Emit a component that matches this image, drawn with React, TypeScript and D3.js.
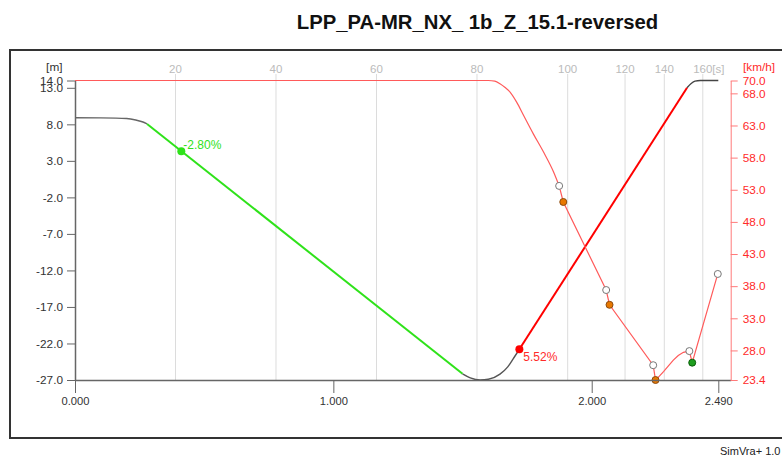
import React, { useRef, useEffect } from 'react';
import * as d3 from 'd3';

const title = 'LPP_PA-MR_NX_ 1b_Z_15.1-reversed';

// elevation profile, [distance km, elevation m]
const startCurve: [number, number][] = [
  [0, 8.9], [0.1, 8.88], [0.2, 8.8], [0.235, 8.6], [0.26, 8.35], [0.279, 8.05],
];
const downGrade: [number, number][] = [[0.279, 8.05], [1.5, -26.15]];
const valleyCurve: [number, number][] = [
  [1.5, -26.15], [1.53, -26.7], [1.568, -27.0], [1.6, -26.9], [1.645, -26.2],
  [1.675, -25.2], [1.696, -24.1], [1.72, -22.8],
];
const upGrade: [number, number][] = [[1.72, -22.8], [2.369, 13.0]];
const topCurve: [number, number][] = [
  [2.369, 13.0], [2.385, 13.6], [2.4, 13.92], [2.42, 14.0], [2.49, 14.0],
];

// grade markers
const gradeKm = [0.4115, 1.72];
const gradeElev = [4.3, -22.8];
const gradeLabels = ['-2.80%', '5.52%'];

// speed profile, [distance km, speed km/h]
const speedBend: [number, number][] = [
  [0, 70], [1.6, 70], [1.625, 69.9], [1.645, 69.5], [1.665, 68.9], [1.684, 68.2],
  [1.71, 66.6], [1.736, 64.6], [1.774, 61.7], [1.813, 58.9], [1.852, 55.8],
  [1.874, 53.6],
];
const speedLine: [number, number][] = [
  [1.874, 53.6], [1.89, 51.1], [2.056, 37.4], [2.069, 35.1], [2.238, 25.7],
  [2.247, 23.4], [2.262, 24.0], [2.278, 24.7], [2.297, 25.6], [2.316, 26.5],
  [2.335, 27.2], [2.355, 27.7], [2.378, 27.9], [2.389, 26.1], [2.488, 39.9],
];
const openPoints: [number, number][] = [
  [1.874, 53.6], [2.056, 37.4], [2.238, 25.7], [2.378, 27.9], [2.488, 39.9],
];
const orangePoints: [number, number][] = [[1.89, 51.1], [2.069, 35.1], [2.247, 23.4]];
const greenPoints: [number, number][] = [[2.389, 26.1]];

// axes
const distTicks = [0, 1, 2, 2.49];
const elevTicks = [14, 13, 8, 3, -2, -7, -12, -17, -22, -27];
const speedTicks = [70, 68, 63, 58, 53, 48, 43, 38, 33, 28, 23.4];
const timeTicks = [20, 40, 60, 80, 100, 120, 140, 160];
const timeTickKm = [0.389, 0.778, 1.167, 1.556, 1.907, 2.129, 2.281, 2.43];

const W = 782;
const H = 458;
const FONT = '"Liberation Sans", Arial, sans-serif';

const App = () => {
  const svgRef = useRef<SVGSVGElement>(null);

  useEffect(() => {
    if (!svgRef.current) return;
    const svg = d3.select(svgRef.current);
    svg.selectAll('*').remove();

    const left = 75, right = 730.7, top = 80.5, bottom = 380;

    const x = d3.scaleLinear().domain([0, 2.538]).range([left, right]);
    const yElev = d3.scaleLinear().domain([-27, 14]).range([bottom, top]);
    const ySpeed = d3.scaleLinear().domain([23.4, 70]).range([bottom, top]);

    // frame
    svg.append('rect')
      .attr('x', 10).attr('y', 50).attr('width', 820).attr('height', 388)
      .attr('fill', 'none').attr('stroke', '#333').attr('stroke-width', 2);

    // title
    svg.append('text')
      .attr('x', 477.5).attr('y', 28.5)
      .attr('text-anchor', 'middle')
      .attr('font-family', FONT).attr('font-weight', 'bold').attr('font-size', 20.3)
      .attr('fill', '#111')
      .text(title);

    svg.append('text')
      .attr('x', 720).attr('y', 454.5)
      .attr('font-family', FONT).attr('font-size', 11).attr('fill', '#222')
      .text('SimVra+ 1.0');

    // time grid
    const grid = svg.append('g');
    grid.selectAll('line')
      .data(timeTickKm)
      .join('line')
      .attr('x1', d => x(d)).attr('x2', d => x(d))
      .attr('y1', 74).attr('y2', bottom)
      .attr('stroke', '#dcdcdc').attr('stroke-width', 1);
    grid.selectAll('text')
      .data(timeTickKm)
      .join('text')
      .attr('x', d => x(d)).attr('y', 72.5)
      .attr('text-anchor', 'middle')
      .attr('font-family', FONT).attr('font-size', 11.5).attr('fill', '#bbb')
      .text((_, i) => String(timeTicks[i]));
    grid.append('text')
      .attr('x', x(timeTickKm[timeTickKm.length - 1]) + 9.5).attr('y', 72.5)
      .attr('font-family', FONT).attr('font-size', 11.5).attr('fill', '#bbb')
      .text('[s]');

    // elevation profile
    const elevLine = d3.line<[number, number]>()
      .x(d => x(d[0]))
      .y(d => yElev(d[1]))
      .curve(d3.curveMonotoneX);

    const profileParts: { data: [number, number][]; color: string; width: number }[] = [
      { data: startCurve, color: '#666', width: 1.4 },
      { data: downGrade, color: '#2fe21a', width: 2 },
      { data: valleyCurve, color: '#555', width: 1.4 },
      { data: upGrade, color: '#ff0000', width: 2 },
      { data: topCurve, color: '#444', width: 1.4 },
    ];
    profileParts.forEach(p => {
      svg.append('path')
        .datum(p.data)
        .attr('fill', 'none')
        .attr('stroke', p.color)
        .attr('stroke-width', p.width)
        .attr('d', elevLine);
    });

    // speed profile
    const speedPath = d3.line<[number, number]>()
      .x(d => x(d[0]))
      .y(d => ySpeed(d[1]));
    svg.append('path')
      .datum(speedBend)
      .attr('fill', 'none')
      .attr('stroke', '#ff5a5a')
      .attr('stroke-width', 1.2)
      .attr('d', speedPath.curve(d3.curveMonotoneX));
    svg.append('path')
      .datum(speedLine)
      .attr('fill', 'none')
      .attr('stroke', '#ff5a5a')
      .attr('stroke-width', 1.2)
      .attr('d', speedPath.curve(d3.curveLinear));

    // grade points
    const gradeColors = ['#2fe21a', '#ff0000'];
    gradeKm.forEach((km, i) => {
      svg.append('circle')
        .attr('cx', x(km)).attr('cy', yElev(gradeElev[i])).attr('r', 4)
        .attr('fill', gradeColors[i]);
      svg.append('text')
        .attr('x', x(km) + (i === 0 ? 2 : 4)).attr('y', yElev(gradeElev[i]) + (i === 0 ? -2 : 12))
        .attr('font-family', FONT).attr('font-size', 12)
        .attr('fill', i === 0 ? '#2fe21a' : '#ff2a2a')
        .text(gradeLabels[i]);
    });

    // speed markers
    const markers = (data: [number, number][], fill: string, stroke: string) => {
      svg.append('g').selectAll('circle')
        .data(data)
        .join('circle')
        .attr('cx', d => x(d[0])).attr('cy', d => ySpeed(d[1])).attr('r', 3.5)
        .attr('fill', fill).attr('stroke', stroke).attr('stroke-width', 1);
    };
    markers(openPoints, '#fff', '#777');
    markers(orangePoints, '#e87800', '#8a4a10');
    markers(greenPoints, '#1e9e1e', '#0b5e0b');

    // axes
    const fmt1 = (d: d3.NumberValue) => (+d).toFixed(1);
    const fmt3 = (d: d3.NumberValue) => (+d).toFixed(3);

    const styleAxis = (g: d3.Selection<SVGGElement, unknown, null, undefined>, color: string, textColor: string) => {
      g.attr('font-family', FONT).attr('font-size', 11.8);
      g.selectAll('.domain').attr('stroke', color).attr('stroke-width', 1.5);
      g.selectAll('.tick line').attr('stroke', color).attr('stroke-width', 1);
      g.selectAll('.tick text').attr('fill', textColor);
    };

    const gLeft = svg.append('g')
      .attr('transform', `translate(${left},0)`)
      .call(d3.axisLeft(yElev).tickValues(elevTicks).tickFormat(fmt1)
        .tickSize(8).tickSizeOuter(0).tickPadding(4));
    styleAxis(gLeft, '#666', '#333');

    const gBottom = svg.append('g')
      .attr('transform', `translate(0,${bottom})`)
      .call(d3.axisBottom(x).tickValues(distTicks).tickFormat(fmt3)
        .tickSize(13).tickSizeOuter(0).tickPadding(4));
    styleAxis(gBottom, '#666', '#333');
    gBottom.attr('font-size', 11.2);

    const gRight = svg.append('g')
      .attr('transform', `translate(${right},0)`)
      .call(d3.axisRight(ySpeed).tickValues(speedTicks).tickFormat(fmt1)
        .tickSize(7).tickSizeOuter(0).tickPadding(5));
    styleAxis(gRight, '#ff7a7a', '#ff2a2a');
    gRight.selectAll('.domain').attr('stroke-width', 1);

    svg.append('text')
      .attr('x', 62.5).attr('y', 70.5).attr('text-anchor', 'end')
      .attr('font-family', FONT).attr('font-size', 11.8).attr('fill', '#333')
      .text('[m]');
    svg.append('text')
      .attr('x', 743).attr('y', 70.5)
      .attr('font-family', FONT).attr('font-size', 11.8).attr('fill', '#ff2a2a')
      .text('[km/h]');
  }, []);

  return (
    <svg
      ref={svgRef}
      width={W}
      height={H}
      style={{ position: 'absolute', left: 0, top: 0, background: '#fff', overflow: 'hidden' }}
    ></svg>
  );
};

export default App;
